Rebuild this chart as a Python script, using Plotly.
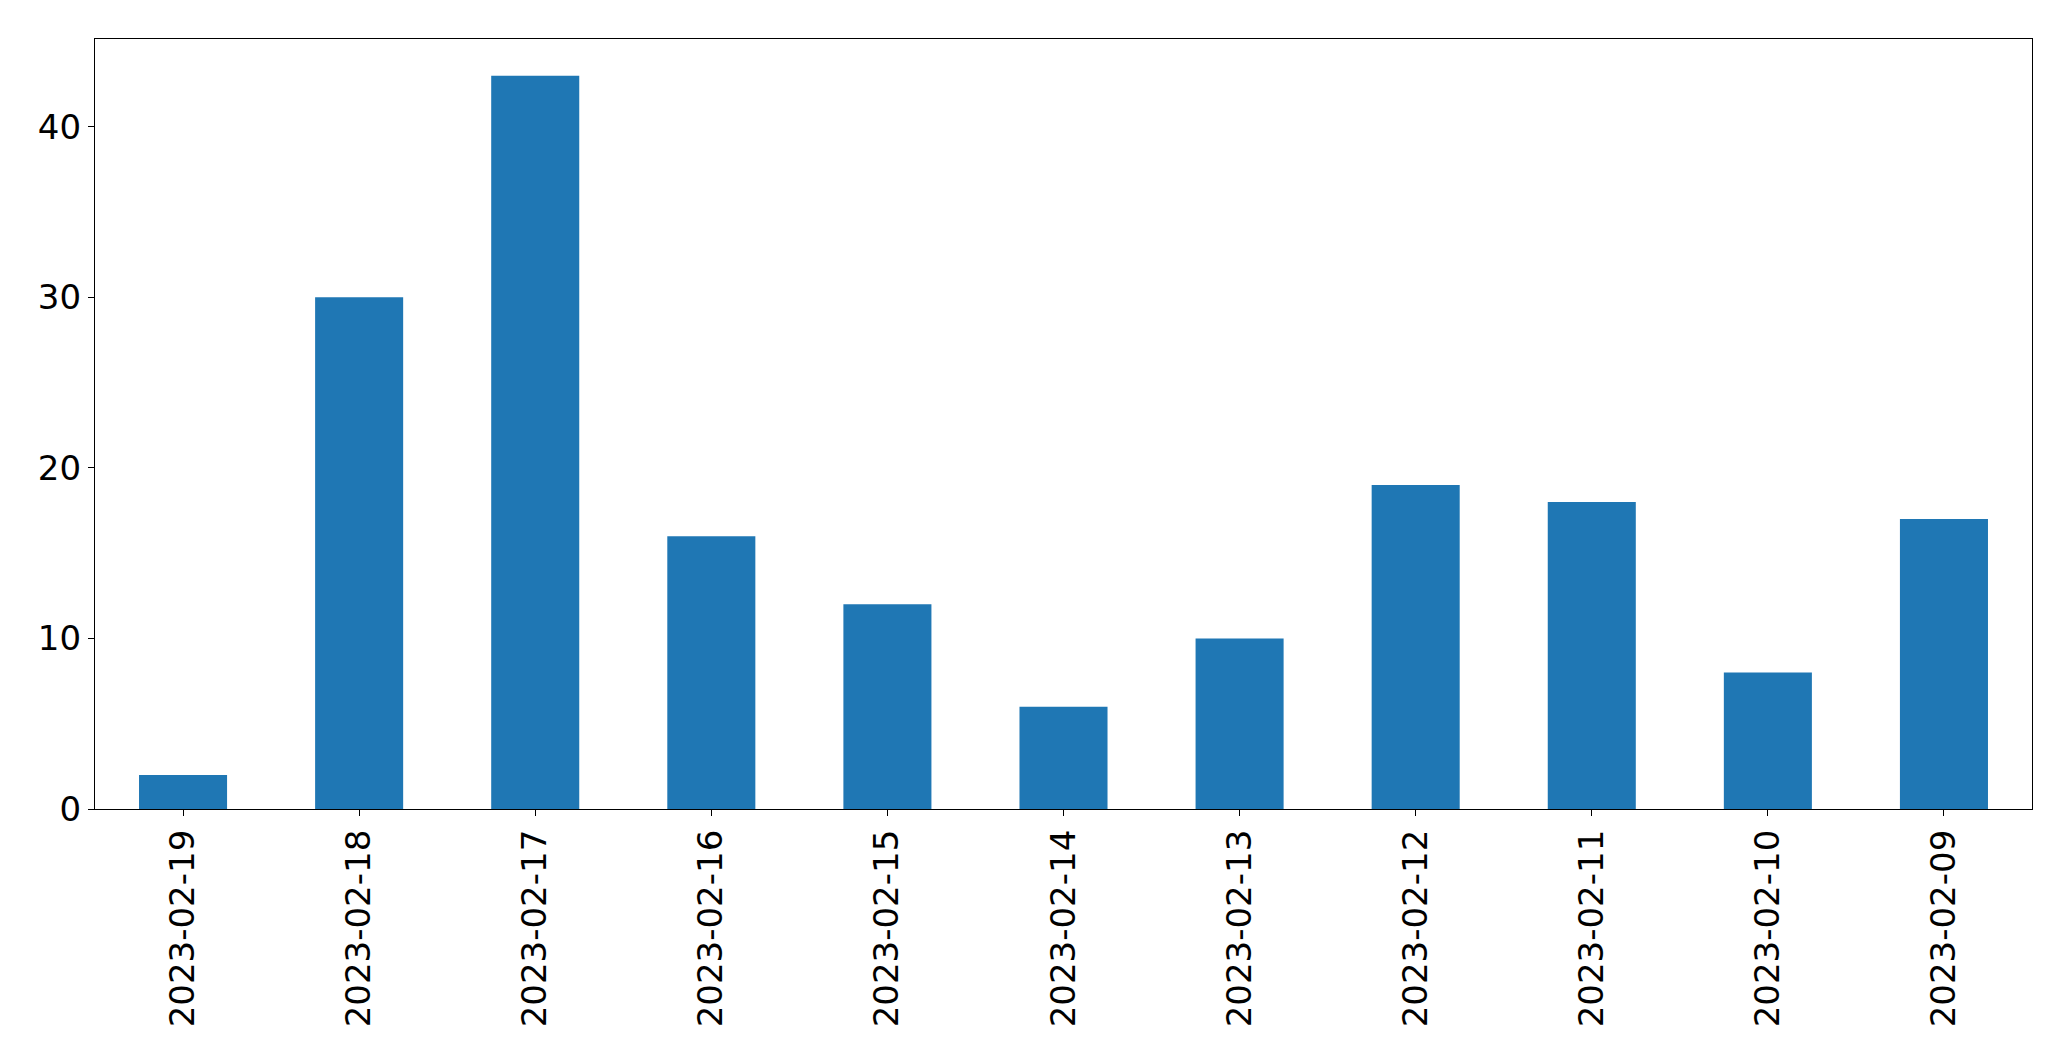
import plotly.graph_objects as go

dates = ["2023-02-19", "2023-02-18", "2023-02-17", "2023-02-16", "2023-02-15",
         "2023-02-14", "2023-02-13", "2023-02-12", "2023-02-11", "2023-02-10", "2023-02-09"]
counts = [2, 30, 43, 16, 12, 6, 10, 19, 18, 8, 17]
y_ticks = [0, 10, 20, 30, 40]

fig = go.Figure(go.Bar(x=dates, y=counts, width=0.5, marker=dict(color="#1f77b4", line=dict(width=0))))

fig.update_layout(
    width=2071, height=1061,
    margin=dict(l=95, r=39, t=39, b=252, pad=0),
    paper_bgcolor="white", plot_bgcolor="white",
    font=dict(family="DejaVu Sans", size=34, color="black"),
    showlegend=False,
)
fig.update_xaxes(
    type="category", range=[-0.5, 10.5], tickangle=-90,
    showline=True, linecolor="black", linewidth=1.3, mirror=True,
    ticks="outside", ticklen=6, tickwidth=1.3, tickcolor="black",
    showgrid=False, zeroline=False,
)
fig.update_yaxes(
    range=[0, 45.15], tickvals=y_ticks,
    showline=True, linecolor="black", linewidth=1.3, mirror=True,
    ticks="outside", ticklen=6, tickwidth=1.3, tickcolor="black",
    showgrid=False, zeroline=False,
)
fig.write_html("out.html")
